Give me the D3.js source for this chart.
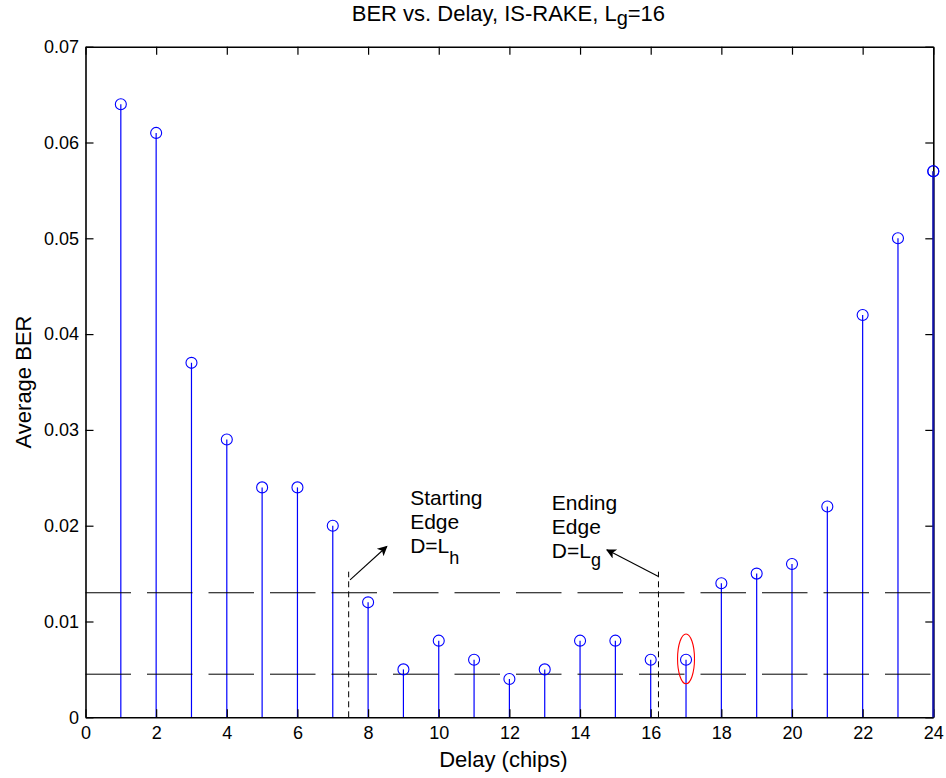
<!DOCTYPE html>
<html>
<head>
<meta charset="utf-8">
<script src="https://cdn.jsdelivr.net/npm/d3@7"></script>
<style>
  html, body { margin: 0; padding: 0; background: #fff; }
  svg { display: block; font-family: "Liberation Sans", Arial, Helvetica, sans-serif; }
</style>
</head>
<body>
<svg id="chart" width="946" height="778"></svg>
<script>
// Delay in chips and the average BER measured at each delay
const delays = [1, 2, 3, 4, 5, 6, 7, 8, 9, 10, 11, 12, 13, 14, 15, 16, 17, 18, 19, 20, 21, 22, 23, 24];
const berValues = [0.064, 0.061, 0.037, 0.029, 0.024, 0.024, 0.020, 0.012, 0.005, 0.008, 0.006, 0.004,
                   0.005, 0.008, 0.008, 0.006, 0.006, 0.014, 0.015, 0.016, 0.022, 0.042, 0.050, 0.057];

// Axis ticks
const xTicks = [0, 2, 4, 6, 8, 10, 12, 14, 16, 18, 20, 22, 24];
const yTicks = [0, 0.01, 0.02, 0.03, 0.04, 0.05, 0.06, 0.07];
const yTickLabels = ["0", "0.01", "0.02", "0.03", "0.04", "0.05", "0.06", "0.07"];

// Reference BER levels (dashed horizontal lines)
const refLevels = [0.013, 0.0045];

// Edge markers: delay position and the height of the dashed vertical line
const edgeDelays = [7.45, 16.22];
const edgeTop = 0.0152;

// Arrows in data units: [x1, y1, x2, y2] from tail to tip
const arrows = [
  [7.49, 0.01435, 8.53, 0.01783],
  [16.22, 0.0147, 14.76, 0.01748]
];

// Annotation text blocks: left x, baselines of the three lines, and the subscript
const notes = [
  { x: 9.19, ys: [0.02211, 0.01963, 0.01714], lines: ["Starting", "Edge", "D=L"], sub: "h", subDy: 11 },
  { x: 13.2, ys: [0.02166, 0.01915, 0.01664], lines: ["Ending", "Edge", "D=L"], sub: "g", subDy: 8 }
];

// Highlighted point
const highlight = { x: 17, y: 0.0061, halfW: 0.24, halfH: 0.0026 };

const svg = d3.select("#chart");
const margin = { left: 85.5, right: 946 - 933.3, top: 46.7, bottom: 778 - 717.3 };
const W = 946, H = 778;

const x = d3.scaleLinear().domain([0, 24]).range([margin.left, W - margin.right]);
const y = d3.scaleLinear().domain([0, 0.07]).range([H - margin.bottom, margin.top]);

const blue = "#0000ff";

// Arrowhead
svg.append("defs").append("marker")
  .attr("id", "head")
  .attr("viewBox", "0 0 10 10")
  .attr("refX", 9).attr("refY", 5)
  .attr("markerWidth", 14).attr("markerHeight", 10)
  .attr("markerUnits", "userSpaceOnUse")
  .attr("orient", "auto")
  .append("path")
  .attr("d", "M0,0 L10,5 L0,10 L2.5,5 Z")
  .attr("fill", "#000");

// Title
const title = svg.append("text")
  .attr("x", (x(0) + x(24)) / 2 - 1)
  .attr("y", 21)
  .attr("text-anchor", "middle")
  .attr("font-size", 22)
  .attr("fill", "#000");
title.append("tspan").text("BER vs. Delay, IS-RAKE, L");
title.append("tspan").attr("dy", 4).attr("font-size", 20).text("g");
title.append("tspan").attr("dy", -4).text("=16");

// Stems
const stems = svg.append("g");
stems.selectAll("line")
  .data(delays)
  .join("line")
  .attr("x1", d => x(d)).attr("x2", d => x(d))
  .attr("y1", y(0))
  .attr("y2", (d, i) => y(berValues[i]))
  .attr("stroke", blue)
  .attr("stroke-width", 1.2);

// Reference levels
svg.append("g").selectAll("line")
  .data(refLevels)
  .join("line")
  .attr("x1", x(0)).attr("x2", x(24))
  .attr("y1", d => y(d)).attr("y2", d => y(d))
  .attr("stroke", "#000")
  .attr("stroke-width", 1)
  .attr("stroke-dasharray", "45.5,16");

// Edge lines
svg.append("g").selectAll("line")
  .data(edgeDelays)
  .join("line")
  .attr("x1", d => x(d)).attr("x2", d => x(d))
  .attr("y1", y(0)).attr("y2", y(edgeTop))
  .attr("stroke", "#000")
  .attr("stroke-width", 1)
  .attr("stroke-dasharray", "6,4");

// Arrows
svg.append("g").selectAll("line")
  .data(arrows)
  .join("line")
  .attr("x1", d => x(d[0])).attr("y1", d => y(d[1]))
  .attr("x2", d => x(d[2])).attr("y2", d => y(d[3]))
  .attr("stroke", "#000")
  .attr("stroke-width", 1.1)
  .attr("marker-end", "url(#head)");

// Annotation text: one multi-line text block per edge
notes.forEach(n => {
  const tx = svg.append("text")
    .attr("font-size", 21)
    .attr("fill", "#000");
  n.lines.forEach((t, i) => {
    tx.append("tspan")
      .attr("x", x(n.x))
      .attr("y", y(n.ys[i]))
      .text(t);
  });
  tx.append("tspan")
    .attr("dy", n.subDy)
    .attr("font-size", 18)
    .text(n.sub);
});

// Markers
svg.append("g").selectAll("circle")
  .data(delays)
  .join("circle")
  .attr("cx", d => x(d))
  .attr("cy", (d, i) => y(berValues[i]))
  .attr("r", 5.5)
  .attr("fill", "none")
  .attr("stroke", blue)
  .attr("stroke-width", 1.1);

// Highlight ellipse
svg.append("ellipse")
  .attr("cx", x(highlight.x))
  .attr("cy", y(highlight.y))
  .attr("rx", x(highlight.x + highlight.halfW) - x(highlight.x))
  .attr("ry", y(0) - y(highlight.halfH))
  .attr("fill", "none")
  .attr("stroke", "#ff0000")
  .attr("stroke-width", 1.1);

// Axes box with inward ticks on all sides
const tickLen = 8;
const axes = svg.append("g");
axes.append("g")
  .attr("transform", `translate(0,${y(0)})`)
  .call(d3.axisBottom(x).tickValues(xTicks).tickSizeInner(-tickLen).tickSizeOuter(0).tickPadding(9).tickFormat(d3.format("d")));
axes.append("g")
  .attr("transform", `translate(0,${y(0.07)})`)
  .call(d3.axisTop(x).tickValues(xTicks).tickSizeInner(-tickLen).tickSizeOuter(0).tickFormat(""));
axes.append("g")
  .attr("transform", `translate(${x(0)},0)`)
  .call(d3.axisLeft(y).tickValues(yTicks).tickSizeInner(-tickLen).tickSizeOuter(0).tickPadding(6.5)
    .tickFormat((d, i) => yTickLabels[i]));
axes.append("g")
  .attr("transform", `translate(${x(24)},0)`)
  .call(d3.axisRight(y).tickValues(yTicks).tickSizeInner(-tickLen).tickSizeOuter(0).tickFormat(""));

axes.selectAll(".domain").attr("stroke", "#000").attr("stroke-width", 1.6);
axes.selectAll(".tick line").attr("stroke", "#000").attr("stroke-width", 1.2);
axes.selectAll(".tick text")
  .attr("font-size", 18)
  .attr("font-family", "'Liberation Sans', Arial, sans-serif")
  .attr("fill", "#000");

// Stem at the last delay sits on the right border
svg.append("line")
  .attr("x1", x(24)).attr("x2", x(24))
  .attr("y1", y(0)).attr("y2", y(berValues[berValues.length - 1]))
  .attr("stroke", "#1010a0")
  .attr("stroke-width", 2);
svg.append("circle")
  .attr("cx", x(24)).attr("cy", y(berValues[berValues.length - 1]))
  .attr("r", 5.5).attr("fill", "none").attr("stroke", blue).attr("stroke-width", 1.1);

// Axis labels
svg.append("text")
  .attr("x", (x(0) + x(24)) / 2 - 6)
  .attr("y", 767)
  .attr("text-anchor", "middle")
  .attr("font-size", 22)
  .attr("fill", "#000")
  .text("Delay (chips)");

svg.append("text")
  .attr("transform", `translate(31,${(y(0) + y(0.07)) / 2}) rotate(-90)`)
  .attr("text-anchor", "middle")
  .attr("font-size", 22)
  .attr("fill", "#000")
  .text("Average BER");
</script>
</body>
</html>
